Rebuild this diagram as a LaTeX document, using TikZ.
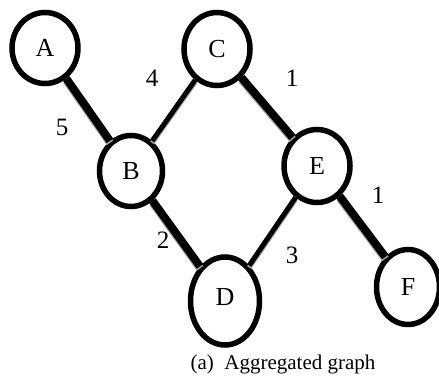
\documentclass[tikz,border=0pt]{standalone}
\usepackage{fontspec}
\setmainfont{Liberation Serif}
\usetikzlibrary{shapes.geometric}
\begin{document}
\begin{tikzpicture}[x=1pt,y=-1pt,
  vtx/.style={ellipse,draw=black,line width=5.5pt,fill=white,inner sep=0pt,
    font=\fontsize{26}{26}\selectfont},
  heavy/.style={line width=8pt},
  light/.style={line width=5pt},
  shade/.style={draw=black!35,transform canvas={yshift=-2pt}},
  wlabel/.style={font=\fontsize{25}{25}\selectfont,inner sep=0pt}]
\useasboundingbox (0,0) rectangle (439,378);
\node[vtx,minimum width=66pt,minimum height=71pt] (A) at (45,48) {A};
\node[vtx,minimum width=63pt,minimum height=71pt] (B) at (131,171) {B};
\node[vtx,minimum width=66pt,minimum height=73pt] (C) at (217,49) {C};
\node[vtx,minimum width=69pt,minimum height=88pt,text depth=9pt] (D) at (225,301) {D};
\node[vtx,minimum width=66pt,minimum height=73pt] (E) at (317,166) {E};
\node[vtx,minimum width=63pt,minimum height=75pt] (F) at (408,287) {F};
\draw[heavy,shade] (A) -- (B);
\draw[light,shade] (B) -- (C);
\draw[heavy,shade] (C) -- (E);
\draw[heavy,shade] (B) -- (D);
\draw[light,shade] (D) -- (E);
\draw[heavy,shade] (E) -- (F);
\draw[heavy] (A) -- (B);
\draw[light] (B) -- (C);
\draw[heavy] (C) -- (E);
\draw[heavy] (B) -- (D);
\draw[light] (D) -- (E);
\draw[heavy] (E) -- (F);
\node[wlabel] (w5) at (62,127) {5};
\node[wlabel] (w4) at (152,78) {4};
\node[wlabel] (w1a) at (292,78) {1};
\node[wlabel] (w2) at (163,240) {2};
\node[wlabel] (w3) at (292,255) {3};
\node[wlabel] (w1b) at (378,195) {1};
\node[font=\fontsize{21}{21}\selectfont,inner sep=0pt] (cap) at (283,364) {(a)\ \ Aggregated graph};
\end{tikzpicture}
\end{document}
